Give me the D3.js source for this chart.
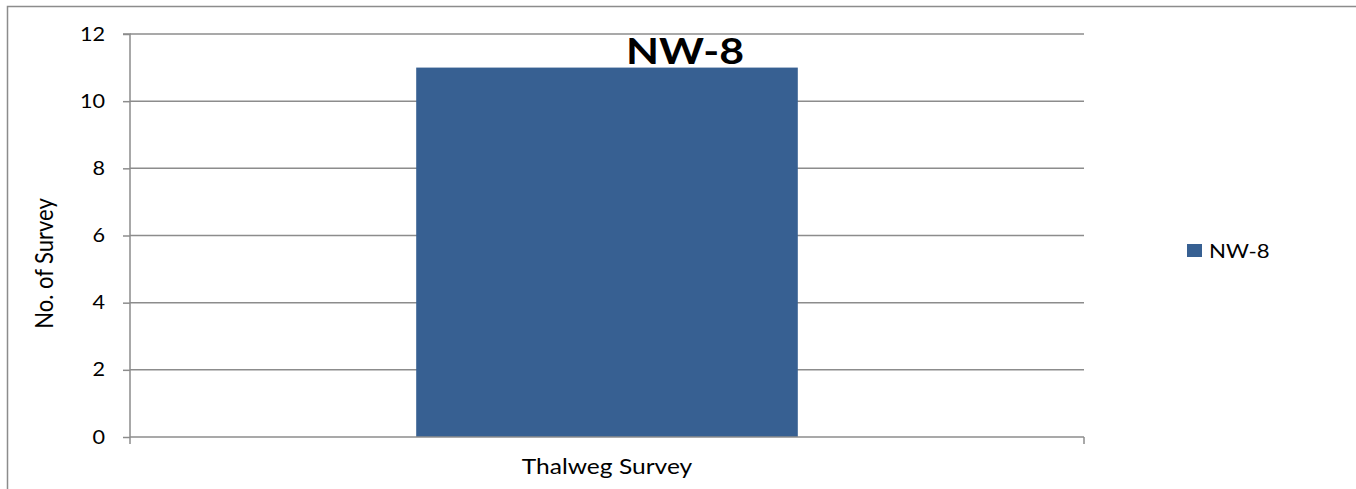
<!DOCTYPE html>
<html><head><meta charset="utf-8">
<script src="https://cdn.jsdelivr.net/npm/d3@7"></script>
<style>
body{margin:0;background:#fff;}
text{font-family:Lato,"Open Sans",sans-serif;fill:#000;}
</style></head>
<body><svg id="c" width="1356" height="489"></svg>
<script>
const categories = ["Thalweg Survey"];
const seriesName = "NW-8";
const values = [11];
const yTicks = [0, 2, 4, 6, 8, 10, 12];
const yTitle = "No. of Survey";

const svg = d3.select("#c");
const m = {left:130, right:1084, top:34, bottom:437};
const grey = "#8c8c8c";

// outer border
svg.append("rect").attr("x",7.5).attr("y",6.5).attr("width",1360).attr("height",500)
  .attr("fill","none").attr("stroke",grey).attr("stroke-width",1.5);

const x = d3.scaleBand().domain(categories).range([m.left,m.right]).paddingInner(0.6).paddingOuter(0.3);
const y = d3.scaleLinear().domain([0,12]).range([m.bottom,m.top]);

// gridlines
svg.append("g").selectAll("line").data(yTicks.filter(d=>d>0)).join("line")
  .attr("x1",m.left).attr("x2",m.right).attr("y1",d=>y(d)).attr("y2",d=>y(d))
  .attr("stroke",grey).attr("stroke-width",1.5);

// bars
svg.append("g").selectAll("rect").data(values).join("rect")
  .attr("x",(d,i)=>x(categories[i])).attr("width",x.bandwidth())
  .attr("y",d=>y(d)).attr("height",d=>y(0)-y(d)).attr("fill","#376092");

// y axis
const ya = svg.append("g").attr("transform",`translate(${m.left},0)`)
  .call(d3.axisLeft(y).tickValues(yTicks).tickSize(7).tickFormat(""));
ya.select(".domain").attr("stroke",grey).attr("stroke-width",1.5).attr("d",`M-7,${m.top}H0V${m.bottom}`);
ya.selectAll(".tick line").attr("stroke",grey).attr("stroke-width",1.5);
svg.append("g").selectAll("text").data(yTicks).join("text")
  .attr("transform",d=>`translate(105,${y(d)+6.5}) scale(1.17,1)`)
  .attr("text-anchor","end").attr("font-size",18.5).text(d=>d);

// x axis
const xa = svg.append("g").attr("transform",`translate(0,${m.bottom})`);
xa.append("line").attr("x1",m.left).attr("x2",m.right).attr("stroke",grey).attr("stroke-width",1.5);
xa.selectAll(".t").data([m.left,m.right]).join("line").attr("class","t")
  .attr("x1",d=>d).attr("x2",d=>d).attr("y1",0).attr("y2",7).attr("stroke",grey).attr("stroke-width",1.5);
xa.selectAll("text").data(categories).join("text")
  .attr("transform",d=>`translate(${x(d)+x.bandwidth()/2},36.5) scale(1.17,1)`)
  .attr("text-anchor","middle").attr("font-size",21).text(d=>d);

// y title
svg.append("text").attr("transform",`translate(53,263.5) rotate(-90) scale(1,1.15)`)
  .attr("text-anchor","middle").attr("font-size",22).text(yTitle);

// data label
svg.append("g").selectAll("text").data(values).join("text")
  .attr("transform",(d,i)=>`translate(${x(categories[i])+x.bandwidth()/2+78},${y(d)-4}) scale(1.19,1)`)
  .attr("text-anchor","middle").attr("font-size",36).attr("font-weight","bold").text(seriesName);

// legend
const lg = svg.append("g").attr("transform","translate(1187,244)");
lg.append("rect").attr("width",15).attr("height",13).attr("fill","#376092");
lg.append("text").attr("transform","translate(22,13.5) scale(1.2,1)").attr("font-size",18.5).text(seriesName);
</script></body></html>
